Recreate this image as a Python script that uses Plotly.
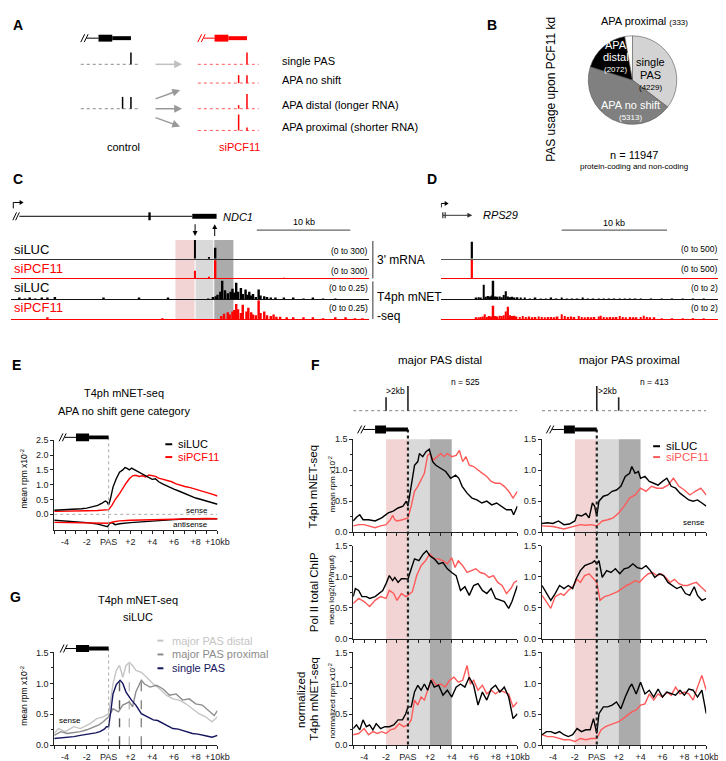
import plotly.graph_objects as go

# ======================= DATA =======================
# Panel B (pie)
pie_labels = ["single PAS", "APA no shift", "APA distal", "APA proximal"]
pie_values = [4229, 5313, 2072, 333]
pie_colors = ["#d3d3d3", "#808080", "#000000", "#ffffff"]

# Panel A schematic: peaks per row as (offset in PAS spacings, relative height)
a_control_rows = [[(0, 1.0)], [(-1, 1.0), (0, 1.0)]]
a_sipcf11_rows = [[(0, 1.0)], [(-1, 0.67), (0, 0.67)], [(-1, 0.3), (0, 1.25)], [(-1, 1.35), (0, 0.25)]]
a_row_labels = ["single PAS", "APA no shift", "APA distal (longer RNA)", "APA proximal (shorter RNA)"]

# Panel C: NDC1 locus (kb from window start)
c_mrna_siluc_pos = [19.7, 21.2, 21.9]
c_mrna_siluc = [300, 20, 175]
c_mrna_sipcf11_pos = [19.7, 21.2, 21.9, 29.2]
c_mrna_sipcf11 = [125, 15, 290, 10]
c_mnet_siluc_pos = [0.9, 1.5, 2.0, 2.6, 3.3, 3.9, 4.7, 9.9, 13.7, 16.8, 21.1,
                    21.6, 21.9, 22.1, 22.4, 22.6, 22.9, 23.2, 23.5, 23.7, 23.9,
                    24.1, 24.3, 24.6, 24.8, 25.1, 25.3, 25.5, 25.7, 25.9, 26.2,
                    26.5, 26.7, 27.1, 27.4, 27.8, 28.3, 29.2, 30.2, 31.3, 32.3,
                    33.4, 34.7]
c_mnet_siluc = [0.015, 0.01, 0.015, 0.01, 0.015, 0.02, 0.03, 0.015, 0.015, 0.02, 0.01,
                0.03, 0.04, 0.06, 0.1, 0.25, 0.12, 0.08, 0.1, 0.14, 0.09,
                0.22, 0.1, 0.15, 0.07, 0.13, 0.06, 0.1, 0.05, 0.07, 0.03,
                0.13, 0.05, 0.04, 0.03, 0.02, 0.02, 0.015, 0.015, 0.01, 0.015,
                0.01, 0.01]
c_mnet_sipcf11_pos = [3.9, 16.2,
                      22.5, 22.8, 23.2, 23.4, 23.7, 23.9, 24.1, 24.3, 24.6, 24.8,
                      25.2, 25.4, 25.7, 25.9, 26.2, 26.5, 26.7, 27.1, 27.4, 27.8,
                      28.1, 28.4, 28.8, 29.5, 30.2, 31.3, 32.3, 33.4, 34.7, 35.8,
                      36.8, 37.6]
c_mnet_sipcf11 = [0.02, 0.01,
                  0.04, 0.07, 0.09, 0.06, 0.1, 0.12, 0.2, 0.13, 0.08, 0.19,
                  0.1, 0.15, 0.09, 0.06, 0.05, 0.25, 0.08, 0.1, 0.05, 0.04,
                  0.06, 0.03, 0.03, 0.02, 0.015, 0.02, 0.015, 0.01, 0.02, 0.015,
                  0.01, 0.01]
c_regions = [(17.6, 19.7), (19.7, 21.7), (21.7, 23.8)]   # -2..PAS, PAS..+2, +2..+4

# Panel D: RPS29 locus (kb from window start)
d_mrna_pos = [3.0]
d_mrna_siluc = [450]
d_mrna_sipcf11 = [500]
d_mnet_siluc_pos = [3.4, 3.6, 3.8, 4.1, 4.3, 4.5, 4.7, 4.85, 5.0, 5.2,
                    5.4, 5.6, 5.8, 6.0, 6.2, 6.4, 6.6, 6.8, 7.0, 7.3,
                    7.6, 8.0, 8.5, 9.0, 9.5, 10.0, 10.5, 11.0, 11.5, 12.0,
                    12.5, 13.0, 13.5, 14.0, 14.5, 15.0, 15.5, 16.0, 16.5, 17.0,
                    17.5, 18.0, 18.5, 19.0, 20.0, 21.0, 22.0, 23.0, 24.0, 25.0]
d_mnet_siluc = [0.1, 0.2, 0.15, 1.55, 0.25, 0.35, 0.3, 0.4, 2.0, 0.3,
                0.25, 0.3, 0.2, 0.45, 0.85, 0.3, 0.2, 0.25, 0.15, 0.2,
                0.1, 0.12, 0.08, 0.1, 0.07, 0.08, 0.1, 0.08, 0.15, 0.08,
                0.06, 0.08, 0.1, 0.06, 0.07, 0.05, 0.08, 0.05, 0.06, 0.05,
                0.08, 0.04, 0.05, 0.04, 0.05, 0.04, 0.05, 0.03, 0.03, 0.02]
d_mnet_sipcf11_pos = [3.4, 3.6, 3.8, 4.0, 4.2, 4.4, 4.6, 4.8, 5.0, 5.2,
                      5.4, 5.6, 5.8, 6.0, 6.2, 6.4, 6.6, 6.8, 7.0, 7.2,
                      7.5, 7.8, 8.1, 8.4, 8.7, 9.0, 9.3, 9.6, 9.9, 10.2,
                      10.5, 10.8, 11.1, 11.5, 11.8, 12.1, 12.4, 12.7, 13.1, 13.4,
                      13.7, 14.0, 14.3, 14.6, 15.0, 15.2, 15.5, 15.8, 16.1, 16.4,
                      16.7, 17.0, 17.3, 17.6, 18.0, 18.3, 18.6, 19.0, 19.3, 19.6,
                      19.9, 20.3, 21.0, 22.0, 23.0, 24.0, 25.0]
d_mnet_sipcf11 = [0.1, 0.15, 0.2, 0.25, 0.5, 0.2, 0.3, 0.25, 1.4, 0.3,
                  0.25, 0.35, 0.3, 0.4, 0.8, 1.3, 0.4, 0.3, 0.35, 0.25,
                  0.2, 0.3, 0.2, 0.25, 0.15, 0.2, 0.25, 0.2, 0.15, 0.2,
                  0.2, 0.15, 0.25, 0.5, 0.3, 0.2, 0.25, 0.2, 0.3, 0.2,
                  0.15, 0.2, 0.15, 0.2, 0.25, 0.35, 0.2, 0.15, 0.2, 0.15,
                  0.2, 0.3, 0.2, 0.15, 0.2, 0.15, 0.15, 0.2, 0.35, 0.2,
                  0.15, 0.1, 0.05, 0.06, 0.05, 0.05, 0.04]

# Metagene x ticks (kb relative to PAS); labelled every 2 kb, minor tick every 1 kb
x_tick_vals = [-4, -2, 0, 2, 4, 6, 8, 10]
x_tick_text = ['-4', '-2', 'PAS', '+2', '+4', '+6', '+8', '+10kb']

# Panel E: (kb, mean rpm x10^-2)
e_sense_siluc = [(-5, 0.14), (-4.5, 0.15), (-4, 0.16), (-3.5, 0.15), (-3, 0.17), (-2.5, 0.19), (-2, 0.21),
                 (-1.5, 0.25), (-1, 0.3), (-0.6, 0.38), (-0.3, 0.45), (-0.15, 0.42), (0, 0.32), (0.15, 0.5),
                 (0.4, 0.92), (0.7, 1.2), (1.0, 1.42), (1.3, 1.5), (1.5, 1.58), (1.7, 1.55), (1.9, 1.5),
                 (2.1, 1.56), (2.4, 1.5), (2.8, 1.4), (3.2, 1.32), (3.6, 1.25), (4.0, 1.18), (4.3, 1.2),
                 (4.6, 1.1), (5.0, 1.02), (5.5, 0.93), (6.0, 0.85), (6.5, 0.78), (7.0, 0.7), (7.5, 0.64),
                 (8.0, 0.55), (8.5, 0.5), (9.0, 0.44), (9.5, 0.39), (10, 0.34)]
e_sense_sipcf11 = [(-5, 0.1), (-4, 0.1), (-3, 0.11), (-2, 0.12), (-1, 0.13), (-0.3, 0.15), (0, 0.16),
                   (0.3, 0.3), (0.6, 0.5), (1.0, 0.7), (1.3, 0.9), (1.6, 1.05), (1.9, 1.2), (2.2, 1.3),
                   (2.5, 1.32), (2.8, 1.28), (3.1, 1.3), (3.4, 1.26), (3.7, 1.33), (4.0, 1.3), (4.3, 1.28),
                   (4.6, 1.22), (5.0, 1.18), (5.4, 1.12), (5.8, 1.1), (6.2, 1.03), (6.6, 0.98), (7.0, 0.94),
                   (7.5, 0.9), (8.0, 0.85), (8.5, 0.8), (9.0, 0.74), (9.5, 0.68), (10, 0.62)]
e_anti_siluc = [(-5, -0.2), (-4, -0.22), (-3, -0.25), (-2, -0.28), (-1, -0.33), (-0.4, -0.38), (-0.1, -0.42),
                (0.1, -0.3), (0.3, -0.28), (0.6, -0.35), (1, -0.32), (2, -0.28), (3, -0.25), (4, -0.22),
                (5, -0.2), (6, -0.18), (7, -0.16), (8, -0.15), (9, -0.15), (10, -0.15)]
e_anti_sipcf11 = [(-5, -0.27), (-4, -0.28), (-3, -0.29), (-2, -0.3), (-1, -0.3), (0, -0.3), (0.5, -0.25),
                  (1, -0.22), (2, -0.2), (3, -0.19), (4, -0.18), (5, -0.17), (6, -0.16), (7, -0.15),
                  (8, -0.15), (9, -0.14), (10, -0.15)]

# Panel F
f_mnet_distal_siluc = [(-5, 0.18), (-4.7, 0.24), (-4.4, 0.28), (-4.1, 0.2), (-3.6, 0.2), (-3, 0.18), (-2.4, 0.23),
                       (-1.8, 0.31), (-1.35, 0.34), (-0.9, 0.39), (-0.45, 0.42), (-0.15, 0.5), (0, 0.42), (0.15, 0.58),
                       (0.45, 0.95), (0.6, 1.08), (0.9, 1.14), (1.05, 1.27), (1.35, 1.22), (1.65, 1.3), (1.95, 1.34),
                       (2.1, 1.25), (2.26, 1.14), (2.55, 1.08), (3, 1.03), (3.45, 0.98), (3.9, 0.87), (4.35, 0.92),
                       (4.65, 0.87), (4.95, 0.74), (5.4, 0.63), (5.85, 0.55), (6.3, 0.52), (6.75, 0.47), (7.2, 0.5),
                       (7.65, 0.44), (8.1, 0.47), (8.55, 0.42), (9, 0.36), (9.45, 0.36), (9.65, 0.28), (10, 0.42)]
f_mnet_distal_sipcf11 = [(-5, 0.1), (-4.5, 0.12), (-4, 0.12), (-3.5, 0.09), (-3, 0.07), (-2.5, 0.1), (-2, 0.12),
                         (-1.6, 0.2), (-1.4, 0.27), (-1.2, 0.2), (-1, 0.18), (-0.5, 0.2), (0, 0.23), (0.3, 0.42),
                         (0.6, 0.66), (0.9, 0.74), (1.2, 0.84), (1.5, 0.95), (1.8, 1.24), (2.0, 1.27), (2.3, 1.16),
                         (2.7, 1.22), (3.0, 1.27), (3.3, 1.22), (3.6, 1.27), (4.0, 1.22), (4.4, 1.24), (4.7, 1.32),
                         (5.0, 1.14), (5.3, 1.22), (5.6, 1.08), (6.0, 1.06), (6.4, 1.0), (6.8, 0.95), (7.2, 0.9),
                         (7.6, 0.82), (8.0, 0.79), (8.4, 0.79), (8.8, 0.74), (9.2, 0.66), (9.6, 0.55), (10, 0.66)]
f_mnet_proximal_siluc = [(-5, 0.14), (-4.5, 0.15), (-4, 0.14), (-3.5, 0.18), (-3, 0.12), (-2.5, 0.13), (-2, 0.18),
                         (-1.8, 0.28), (-1.4, 0.26), (-1, 0.3), (-0.7, 0.23), (-0.4, 0.47), (-0.2, 0.42), (0, 0.26),
                         (0.2, 0.5), (0.6, 0.58), (1.0, 0.6), (1.4, 0.66), (1.8, 0.68), (2.2, 0.74), (2.6, 0.9),
                         (3.0, 0.95), (3.2, 1.06), (3.5, 0.95), (3.8, 0.98), (4.0, 0.87), (4.4, 0.9), (4.8, 0.82),
                         (5.2, 0.79), (5.6, 0.76), (6.0, 0.82), (6.4, 0.87), (6.8, 0.74), (7.2, 0.71), (7.6, 0.63),
                         (8.0, 0.58), (8.4, 0.52), (8.8, 0.5), (9.2, 0.52), (9.6, 0.47), (10, 0.42)]
f_mnet_proximal_sipcf11 = [(-5, 0.1), (-4, 0.09), (-3, 0.05), (-2, 0.1), (-1.5, 0.12), (-1, 0.11), (-0.5, 0.12),
                           (0, 0.1), (0.5, 0.18), (1, 0.2), (1.5, 0.23), (2, 0.31), (2.5, 0.42), (3, 0.55),
                           (3.5, 0.6), (4, 0.71), (4.5, 0.66), (5, 0.74), (5.5, 0.71), (6, 0.71), (6.5, 0.76),
                           (7, 0.87), (7.5, 0.74), (8, 0.68), (8.5, 0.6), (9, 0.66), (9.5, 0.71), (10, 0.6)]
f_chip_distal_siluc = [(-5, 0.68), (-4.8, 0.81), (-4.5, 0.78), (-4.2, 0.68), (-3.8, 0.68), (-3.5, 0.65), (-3, 0.68),
                       (-2.6, 0.73), (-2.3, 0.78), (-2, 0.89), (-1.7, 1.02), (-1.4, 0.94), (-1.2, 0.99), (-0.9, 0.91),
                       (-0.6, 0.97), (-0.3, 0.97), (0, 0.96), (0.3, 1.13), (0.6, 1.29), (1, 1.26), (1.4, 1.37),
                       (1.7, 1.42), (2, 1.34), (2.4, 1.29), (2.8, 1.21), (3.2, 1.23), (3.6, 1.13), (4, 1.07),
                       (4.4, 1.02), (4.8, 0.78), (5.2, 0.84), (5.6, 0.7), (6, 0.86), (6.4, 0.89), (6.8, 0.78),
                       (7.2, 0.73), (7.6, 0.81), (8, 0.65), (8.4, 0.62), (8.8, 0.6), (9.2, 0.49), (9.5, 0.6), (10, 0.86)]
f_chip_distal_sipcf11 = [(-5, 0.57), (-4.5, 0.65), (-4, 0.6), (-3.5, 0.52), (-3, 0.62), (-2.5, 0.68), (-2, 0.65),
                         (-1.7, 0.78), (-1.3, 0.73), (-1, 0.62), (-0.6, 0.73), (-0.2, 0.68), (0, 0.7), (0.4, 0.76),
                         (0.8, 1.02), (1.2, 1.18), (1.6, 1.26), (2, 1.37), (2.4, 1.29), (2.8, 1.29), (3.2, 1.26),
                         (3.6, 1.21), (4, 1.31), (4.3, 1.15), (4.6, 1.26), (5, 1.18), (5.4, 1.07), (5.8, 1.1),
                         (6.2, 1.13), (6.6, 1.07), (7, 1.05), (7.4, 0.99), (7.8, 1.02), (8.2, 0.91), (8.6, 0.86),
                         (9, 0.73), (9.4, 0.81), (9.7, 0.91), (10, 0.94)]
f_chip_proximal_siluc = [(-5, 0.86), (-4.6, 0.73), (-4.2, 0.62), (-3.8, 0.73), (-3.4, 0.86), (-3, 0.81), (-2.6, 0.86),
                         (-2.2, 0.81), (-1.9, 0.96), (-1.5, 1.1), (-1.1, 1.18), (-0.7, 1.21), (-0.4, 1.23), (-0.2, 1.26),
                         (0, 1.21), (0.2, 1.26), (0.5, 0.99), (0.9, 1.1), (1.3, 1.07), (1.7, 1.13), (2.1, 1.05),
                         (2.5, 1.13), (2.9, 1.15), (3.3, 1.21), (3.7, 1.15), (4.1, 1.13), (4.5, 1.18), (4.9, 1.1),
                         (5.3, 0.99), (5.7, 1.05), (6.1, 1.02), (6.5, 0.91), (6.9, 0.86), (7.3, 0.81), (7.7, 0.84),
                         (8.1, 0.73), (8.5, 0.7), (8.9, 0.84), (9.2, 0.7), (9.6, 0.62), (10, 0.65)]
f_chip_proximal_sipcf11 = [(-5, 0.7), (-4.5, 0.57), (-4.2, 0.49), (-3.8, 0.68), (-3.3, 0.73), (-3, 0.7), (-2.6, 0.78),
                           (-2.2, 0.84), (-1.8, 0.96), (-1.5, 0.91), (-1.1, 1.02), (-0.7, 1.05), (-0.3, 0.96), (0, 0.91),
                           (0.3, 0.62), (0.7, 0.68), (1.1, 0.7), (1.5, 0.73), (1.9, 0.76), (2.3, 0.81), (2.7, 0.86),
                           (3.1, 0.89), (3.5, 0.94), (3.9, 0.91), (4.3, 0.99), (4.7, 1.05), (5.1, 1.07), (5.5, 1.02),
                           (5.9, 1.05), (6.3, 0.99), (6.7, 0.91), (7.1, 0.96), (7.5, 0.89), (7.9, 0.86), (8.3, 0.86),
                           (8.7, 0.89), (9.1, 0.91), (9.5, 0.84), (10, 0.76)]
f_norm_distal_siluc = [(-5, 0.27), (-4.7, 0.33), (-4.4, 0.25), (-4.1, 0.41), (-3.8, 0.3), (-3.5, 0.33), (-3.2, 0.25),
                       (-2.9, 0.35), (-2.5, 0.27), (-2.1, 0.3), (-1.7, 0.3), (-1.3, 0.33), (-0.9, 0.41), (-0.5, 0.41),
                       (-0.2, 0.51), (0, 0.62), (0.3, 0.62), (0.6, 0.86), (0.9, 0.97), (1.2, 0.89), (1.5, 0.99),
                       (1.8, 0.89), (2.1, 1.05), (2.4, 0.94), (2.8, 0.97), (3.2, 0.81), (3.6, 0.89), (4, 0.78),
                       (4.4, 0.94), (4.8, 0.99), (5.2, 0.94), (5.6, 1.1), (6, 0.97), (6.4, 0.65), (6.8, 0.86),
                       (7.2, 0.73), (7.6, 0.91), (8, 0.97), (8.4, 0.86), (8.8, 0.94), (9.2, 0.78), (9.6, 0.43), (10, 0.51)]
f_norm_distal_sipcf11 = [(-5, 0.17), (-4.5, 0.19), (-4, 0.27), (-3.6, 0.17), (-3.2, 0.22), (-2.8, 0.19), (-2.4, 0.22),
                         (-2, 0.19), (-1.6, 0.25), (-1.2, 0.27), (-0.8, 0.35), (-0.4, 0.3), (0, 0.33), (0.3, 0.41),
                         (0.6, 0.73), (0.9, 0.65), (1.2, 0.78), (1.5, 0.73), (1.8, 0.89), (2.2, 1.07), (2.6, 0.97),
                         (3, 0.99), (3.4, 0.94), (3.8, 1.05), (4.2, 1.1), (4.6, 1.02), (5, 1.05), (5.4, 1.29),
                         (5.7, 0.99), (6, 1.05), (6.4, 0.89), (6.8, 0.97), (7.2, 0.83), (7.6, 0.89), (8, 0.83),
                         (8.4, 0.89), (8.8, 0.86), (9.2, 0.83), (9.6, 0.62), (10, 0.7)]
f_norm_proximal_siluc = [(-5, 0.17), (-4.6, 0.22), (-4.2, 0.22), (-3.8, 0.19), (-3.4, 0.22), (-3, 0.17), (-2.6, 0.14),
                         (-2.2, 0.17), (-1.8, 0.27), (-1.4, 0.22), (-1, 0.25), (-0.6, 0.25), (-0.3, 0.43), (0, 0.19),
                         (0.2, 0.51), (0.6, 0.62), (1, 0.62), (1.4, 0.65), (1.8, 0.7), (2.2, 0.59), (2.6, 0.78),
                         (3, 0.94), (3.2, 0.99), (3.6, 0.83), (4, 1.02), (4.4, 0.83), (4.8, 0.89), (5.2, 0.78),
                         (5.6, 0.91), (6, 0.78), (6.4, 0.86), (6.8, 0.83), (7.2, 0.81), (7.6, 0.89), (8, 0.81),
                         (8.4, 0.91), (8.8, 0.89), (9.2, 0.78), (9.6, 0.89), (10, 0.51)]
f_norm_proximal_sipcf11 = [(-5, 0.17), (-4.5, 0.14), (-4, 0.14), (-3.5, 0.11), (-3, 0.09), (-2.5, 0.09), (-2, 0.06),
                           (-1.5, 0.11), (-1, 0.09), (-0.5, 0.11), (0, 0.11), (0.4, 0.25), (0.8, 0.3), (1.2, 0.33),
                           (1.6, 0.35), (2, 0.38), (2.4, 0.43), (2.8, 0.49), (3.2, 0.54), (3.6, 0.57), (4, 0.65),
                           (4.4, 0.67), (4.8, 0.83), (5.2, 0.73), (5.6, 0.83), (6, 0.78), (6.4, 0.86), (6.8, 0.81),
                           (7.2, 0.94), (7.6, 0.83), (8, 0.86), (8.4, 0.83), (8.8, 0.73), (9.2, 0.94), (9.6, 1.13), (10, 0.89)]
f_regions = [(-2, 0), (0, 2), (2, 4)]
f_distal_schema = [(-2, 0.55), (0, 1.0)]     # PAS position (kb), relative usage
f_proximal_schema = [(0, 1.0), (2, 0.55)]
f_n = ["n = 525", "n = 413"]

# Panel G
g_distal = [(-5, 0.19), (-4.6, 0.27), (-4, 0.22), (-3.2, 0.3), (-2.6, 0.27), (-1.7, 0.35), (-1.1, 0.43), (-0.5, 0.46),
            (0, 0.51), (0.4, 0.99), (0.7, 1.21), (1.0, 1.29), (1.3, 1.1), (1.6, 1.29), (1.9, 1.34), (2.2, 1.29),
            (2.5, 1.21), (3.0, 1.18), (3.5, 1.1), (4.1, 0.99), (4.7, 0.91), (5.3, 0.81), (5.9, 0.75), (6.5, 0.73),
            (7.1, 0.67), (7.7, 0.59), (8.3, 0.51), (8.9, 0.46), (9.5, 0.38), (10, 0.46)]
g_proximal = [(-5, 0.16), (-4.4, 0.22), (-3.8, 0.19), (-3.2, 0.2), (-2.6, 0.22), (-2, 0.25), (-1.4, 0.3), (-0.9, 0.33),
              (-0.5, 0.38), (0, 0.46), (0.4, 0.59), (0.9, 0.54), (1.3, 0.65), (1.9, 0.7), (2.2, 0.62), (2.5, 0.86),
              (3.0, 1.05), (3.3, 0.99), (3.8, 0.94), (4.4, 0.97), (5.0, 0.91), (5.6, 0.81), (6.2, 0.83), (6.8, 0.73),
              (7.4, 0.75), (8.0, 0.67), (8.6, 0.65), (9.2, 0.56), (9.7, 0.48), (10, 0.56)]
g_single = [(-5, 0.11), (-4.4, 0.12), (-3.8, 0.12), (-3.2, 0.14), (-2.6, 0.16), (-2.1, 0.17), (-1.7, 0.19), (-1.2, 0.2),
            (-0.8, 0.22), (-0.4, 0.26), (-0.2, 0.3), (0, 0.3), (0.2, 0.55), (0.4, 0.83), (0.7, 0.98), (0.9, 1.02),
            (1.05, 1.05), (1.3, 1.0), (1.6, 0.86), (2.1, 0.73), (2.5, 0.65), (3.0, 0.51), (3.5, 0.46), (4.1, 0.41),
            (4.5, 0.4), (5.0, 0.35), (5.5, 0.3), (5.9, 0.27), (6.4, 0.26), (6.8, 0.24), (7.2, 0.22), (7.7, 0.19),
            (8.2, 0.18), (8.6, 0.16), (9.0, 0.15), (9.5, 0.13), (10, 0.16)]
g_peak_pos = [1.0, 1.9, 3.0]
g_peak_val = [1.03, 1.33, 1.04]

# ======================= STYLE / HELPERS =======================
W, H = 726, 761
FONT = "Liberation Sans, Arial, Helvetica, sans-serif"
INK = "#222222"
RED = "#ff0000"
LRED = "#ff5a5a"
NAVY = "#15155f"
G_DIST = "#c4c4c4"
G_PROX = "#8c8c8c"
PINK = "#f3d4d4"
LGRAY = "#d9d9d9"
DGRAY = "#ababab"


def X(px):
    return px / W


def Y(py):
    return 1 - py / H


def names(n):
    s = '' if n == 1 else str(n)
    return 'x' + s, 'y' + s, 'xaxis' + s, 'yaxis' + s


fig = go.Figure()
shapes = []
annots = []
axes = {}


def cx(v, ref):
    return X(v) if ref == 'paper' else v


def cy(v, ref):
    return Y(v) if ref == 'paper' else v


def text(x, y, s, size=11, color='black', xanchor='center', angle=0, xref='paper', yref='paper'):
    annots.append(dict(x=cx(x, xref), y=cy(y, yref), xref=xref, yref=yref, text=s, showarrow=False,
                       font=dict(size=size, color=color, family=FONT), xanchor=xanchor, yanchor='middle',
                       textangle=angle, borderpad=0))


def seg(x0, y0, x1, y1, color=INK, width=1, dash='solid', xref='paper', yref='paper', layer='above'):
    shapes.append(dict(type='line', x0=cx(x0, xref), x1=cx(x1, xref), y0=cy(y0, yref), y1=cy(y1, yref),
                       xref=xref, yref=yref, layer=layer, line=dict(color=color, width=width, dash=dash)))


def rect(x0, y0, x1, y1, color, xref='paper', yref='paper', layer='above'):
    shapes.append(dict(type='rect', x0=cx(x0, xref), x1=cx(x1, xref), y0=cy(y0, yref), y1=cy(y1, yref),
                       xref=xref, yref=yref, layer=layer, fillcolor=color, line=dict(width=0)))


def arrow_px(x0, y0, x1, y1, color='#999', width=1.5, hl=8, hw=4):
    """Arrow drawn as a line plus a filled triangular head, in pixel space of the page."""
    dx, dy = x1 - x0, y1 - y0
    L = (dx * dx + dy * dy) ** 0.5
    ux, uy = dx / L, dy / L
    bx, by = x1 - ux * hl, y1 - uy * hl
    seg(x0, y0, bx + ux * 1, by + uy * 1, color=color, width=width)
    p1 = (bx - uy * hw, by + ux * hw)
    p2 = (bx + uy * hw, by - ux * hw)
    path = "M %f %f L %f %f L %f %f Z" % (X(x1), Y(y1), X(p1[0]), Y(p1[1]), X(p2[0]), Y(p2[1]))
    shapes.append(dict(type='path', path=path, xref='paper', yref='paper', fillcolor=color,
                       line=dict(width=0), layer='above'))


def gene_icon(xref, yc, slash0, sw, gap, box, bar, color, box_h, bar_h):
    for k in range(2):
        a = slash0 + k * gap
        seg(a, yc + 4, a + sw, yc - 4, color=color, width=1, xref=xref)
    seg(slash0 + gap + sw * 0.6, yc, box[0], yc, color=color, width=1, xref=xref)
    rect(box[0], yc - box_h / 2, box[1], yc + box_h / 2, color, xref=xref)
    rect(bar[0], yc - bar_h / 2, bar[1], yc + bar_h / 2, color, xref=xref)


def line(pairs, color, n, width=1.4):
    xa, ya, _, _ = names(n)
    fig.add_trace(go.Scatter(x=[p[0] for p in pairs], y=[p[1] for p in pairs], mode='lines',
                             line=dict(color=color, width=width), xaxis=xa, yaxis=ya,
                             hoverinfo='skip', showlegend=False))


def bars(xs, ys, color, n, width):
    xa, ya, _, _ = names(n)
    fig.add_trace(go.Bar(x=xs, y=ys, width=width, marker=dict(color=color, line=dict(width=0)),
                         textposition='none', xaxis=xa, yaxis=ya, hoverinfo='skip', showlegend=False))


def profile_axes(n, xpx, ypx, yrange, ytv, xlabels, yminor=True):
    xa, ya, xk, yk = names(n)
    axes[xk] = dict(domain=[X(xpx[0]), X(xpx[1])], range=[-5, 10], anchor=ya, showline=True, linecolor=INK,
                    linewidth=1, ticks='outside', ticklen=3, tickwidth=1, tickcolor=INK, tickvals=x_tick_vals,
                    ticktext=x_tick_text, showticklabels=xlabels, showgrid=False, zeroline=False,
                    minor=dict(dtick=1, tick0=-5, ticks='outside', ticklen=3, tickwidth=1, tickcolor=INK,
                               showgrid=False),
                    tickfont=dict(size=9, color=INK, family=FONT), fixedrange=True)
    yd = dict(domain=[Y(ypx[1]), Y(ypx[0])], range=yrange, anchor=xa, showline=True, linecolor=INK,
              linewidth=1, ticks='outside', ticklen=3, tickwidth=1, tickcolor=INK, tickvals=ytv,
              ticktext=['%.1f' % v for v in ytv], showgrid=False, zeroline=False,
              tickfont=dict(size=9, color=INK, family=FONT), fixedrange=True)
    if yminor:
        yd['minor'] = dict(dtick=0.25, tick0=0, ticks='outside', ticklen=2, tickcolor=INK, showgrid=False)
    axes[yk] = yd


def track_axes(n, xpx, ypx, xrange, yrange, linecolor):
    xa, ya, xk, yk = names(n)
    axes[xk] = dict(domain=[X(xpx[0]), X(xpx[1])], range=xrange, anchor=ya, showline=True, linecolor=linecolor,
                    linewidth=1, ticks='', showticklabels=False, showgrid=False, zeroline=False, fixedrange=True)
    axes[yk] = dict(domain=[Y(ypx[1]), Y(ypx[0])], range=yrange, anchor=xa, showline=False, ticks='',
                    showticklabels=False, showgrid=False, zeroline=False, fixedrange=True)


# ======================= PANEL LETTERS =======================
for lab, px, py in [("A", 10, 12), ("B", 492, 12), ("C", 10, 168), ("D", 431, 168),
                    ("E", 9, 357), ("F", 313, 357), ("G", 8, 592)]:
    text(px, py, "<b>%s</b>" % lab, size=14)

# ======================= PANEL A =======================
gene_icon('paper', 25.5, 74, 4, 3.5, (92, 106), (106, 125), 'black', 7, 4)
gene_icon('paper', 25.5, 193, 4, 3.5, (210, 224), (224, 243), RED, 7, 4)
A_SP, A_H = 8.5, 12
ctrl_y = [52, 97]
kd_y = [52, 71, 97, 119]
for yb, peaks in zip(ctrl_y, a_control_rows):
    seg(74, yb, 135, yb, color='#8a8a8a', width=1, dash='dot')
    for off, h in peaks:
        xp = 125 + off * A_SP
        seg(xp, yb, xp, yb - h * A_H, color='black', width=1.5)
for yb, peaks, lab in zip(kd_y, a_sipcf11_rows, a_row_labels):
    seg(193, yb, 255, yb, color=LRED, width=1, dash='dot')
    for off, h in peaks:
        xp = 243 + off * A_SP
        seg(xp, yb, xp, yb - h * A_H, color=RED, width=1.5)
    text(278, yb - 3.5, lab, size=11, xanchor='left')
arrow_px(150, 52, 177, 52, color='#c0c0c0')
arrow_px(150, 87, 175, 78, color='#999999')
arrow_px(150, 97, 177, 97, color='#999999')
arrow_px(150, 106, 175, 115, color='#999999')
text(117, 136, "control", size=11)
text(235, 136, "siPCF11", size=11, color=RED)

# ======================= PANEL B =======================
fig.add_trace(go.Pie(labels=pie_labels, values=pie_values, sort=False, direction='clockwise', rotation=0,
                     marker=dict(colors=pie_colors, line=dict(color='#555555', width=0.6)),
                     textinfo='none', hoverinfo='skip', showlegend=False,
                     domain=dict(x=[X(590), X(680)], y=[Y(113), Y(23)])))
text(552, 77, "PAS usage upon PCF11 kd", size=12, angle=-90)
text(647, 8, "APA proximal <span style='font-size:8px'>(%d)</span>" % pie_values[3], size=11)
text(653, 50, "single", size=11)
text(653, 63, "PAS", size=11)
text(653, 75, "(%d)" % pie_values[0], size=8)
text(618, 32, "APA", size=11, color='white')
text(618, 45, "distal", size=11, color='white')
text(618, 57, "(%d)" % pie_values[2], size=8, color='white')
text(633, 93, "APA no shift", size=11, color='white')
text(633, 106, "(%d)" % pie_values[1], size=8, color='white')
text(637, 144, "n = %d" % sum(pie_values), size=11)
text(637, 156, "protein-coding and non-coding", size=8)

# ======================= PANEL C =======================
C_X = (3, 367)
C_R = [0, 38.3]
TR_Y = [(230, 249), (250, 269), (271, 290), (291, 310)]


def c_px(kb):
    return C_X[0] + (kb - C_R[0]) / (C_R[1] - C_R[0]) * (C_X[1] - C_X[0])


track_axes(9, C_X, TR_Y[0], C_R, [0, 300], '#333333')
track_axes(10, C_X, TR_Y[1], C_R, [0, 300], RED)
track_axes(11, C_X, TR_Y[2], C_R, [0, 0.25], '#111111')
track_axes(12, C_X, TR_Y[3], C_R, [0, 0.25], RED)
bars(c_mrna_siluc_pos, c_mrna_siluc, 'black', 9, 0.16)
bars(c_mrna_sipcf11_pos, c_mrna_sipcf11, RED, 10, 0.16)
bars(c_mnet_siluc_pos, c_mnet_siluc, 'black', 11, 0.26)
bars(c_mnet_sipcf11_pos, c_mnet_sipcf11, RED, 12, 0.26)
for (a, b), col in zip(c_regions, [PINK, LGRAY, DGRAY]):
    rect(a, 310, b, 230, col, xref='x9', layer='below')
for b in [c_regions[0][1], c_regions[1][1]]:
    seg(b, 310, b, 230, color='white', width=1, xref='x9', layer='below')
# gene model
seg(0.2, 210, 0.6, 202, color='black', xref='x9')
seg(0.5, 210, 0.9, 202, color='black', xref='x9')
seg(0.9, 206, 19.4, 206, color='black', width=1, xref='x9')
rect(14.7, 202, 14.95, 210, 'black', xref='x9')
rect(19.4, 203.5, 22.0, 208.5, 'black', xref='x9')
seg(0.25, 198, 0.25, 192, color='black', xref='x9')
arrow_px(c_px(0.25), 192, c_px(1.35), 192, color='black', width=1, hl=4, hw=2.5)
text(218, 207, "<i>NDC1</i>", size=11, xanchor='left')
arrow_px(c_px(19.7), 214, c_px(19.7), 226, color='black', width=1, hl=5, hw=2.5)
arrow_px(c_px(21.8), 226, c_px(21.8), 214, color='black', width=1, hl=5, hw=2.5)
seg(26.3, 220, 36.3, 220, color='#666666', width=1.2, xref='x9')
text(31.3, 212, "10 kb", size=9, xref='x9')
for yy, lab, col in [(240, "siLUC", 'black'), (259, "siPCF11", RED), (278, "siLUC", 'black'), (298, "siPCF11", RED)]:
    text(5, yy, lab, size=13, color=col, xanchor='left')
for yy, lab in [(241, "(0 to 300)"), (261, "(0 to 300)"), (279, "(0 to 0.25)"), (299, "(0 to 0.25)")]:
    text(367, yy, lab, size=8.5, xanchor='right')
seg(371, 231, 371, 269, color='#333333', width=1)
seg(371, 272, 371, 310, color='#333333', width=1)
text(374, 250, "3' mRNA", size=12, xanchor='left')
text(374, 288, "T4ph mNET", size=12, xanchor='left')
text(374, 307, "-seq", size=12, xanchor='left')

# ======================= PANEL D =======================
D_X = (440, 724)
D_R = [0, 26.54]


def d_px(kb):
    return D_X[0] + (kb - D_R[0]) / (D_R[1] - D_R[0]) * (D_X[1] - D_X[0])


track_axes(13, D_X, TR_Y[0], D_R, [0, 500], '#555555')
track_axes(14, D_X, TR_Y[1], D_R, [0, 500], RED)
track_axes(15, D_X, TR_Y[2], D_R, [0, 2], '#111111')
track_axes(16, D_X, TR_Y[3], D_R, [0, 2], RED)
bars(d_mrna_pos, d_mrna_siluc, 'black', 13, 0.12)
bars(d_mrna_pos, d_mrna_sipcf11, RED, 14, 0.12)
bars(d_mnet_siluc_pos, d_mnet_siluc, 'black', 15, 0.16)
bars(d_mnet_sipcf11_pos, d_mnet_sipcf11, RED, 16, 0.16)
seg(0.05, 197, 0.05, 193, color='black', xref='x13')
arrow_px(d_px(0.05), 193, d_px(0.75), 193, color='black', width=1, hl=4, hw=2.5)
seg(0.2, 202, 0.2, 208, color='#333333', width=1.2, xref='x13')
seg(0.42, 202, 0.42, 208, color='#333333', width=1.2, xref='x13')
arrow_px(d_px(0.2), 205, d_px(3.0), 205, color='#333333', width=1, hl=5, hw=2.5)
text(482, 205, "<i>RPS29</i>", size=11, xanchor='left')
seg(11.5, 220, 21.5, 220, color='#666666', width=1.2, xref='x13')
text(16.5, 213, "10 kb", size=9, xref='x13')
for yy, lab in [(239, "(0 to 500)"), (259, "(0 to 500)"), (279, "(0 to 2)"), (299, "(0 to 2)")]:
    text(723, yy, lab, size=8.5, xanchor='right')

# ======================= PANEL E =======================
profile_axes(1, (47, 213), (433, 524), [-0.533, 2.5], [0, 0.5, 1.0, 1.5, 2.0, 2.5], True, yminor=False)
seg(-5, 0, 10, 0, color='#aaaaaa', width=1, dash='dot', xref='x', yref='y', layer='below')
seg(0, 430, 0, 524, color='#aaaaaa', width=1, dash='dot', xref='x')
line(e_anti_siluc, 'black', 1)
line(e_anti_sipcf11, RED, 1)
line(e_sense_sipcf11, RED, 1)
line(e_sense_siluc, 'black', 1)
gene_icon('x', 430, -4.55, 0.35, 0.3, (-3.0, -1.8), (-1.8, 0), 'black', 8, 4)
text(118, 385, "T4ph mNET-seq", size=11)
text(118, 403, "APA no shift gene category", size=11)
seg(160, 437, 167, 437, color='black', width=2)
seg(160, 450, 167, 450, color=RED, width=2)
text(172, 437, "siLUC", size=11, xanchor='left')
text(172, 450, "siPCF11", size=11, color=RED, xanchor='left')
text(204, 504, "sense", size=8, xanchor='right')
text(204, 518, "antisense", size=8, xanchor='right')
text(17, 472, "mean rpm x10<sup>-2</sup>", size=8.5, angle=-90)

# ======================= PANEL F =======================
F_COLS = [(351, 518), (543, 710)]
F_ROWS = [(432, 526), (540, 634), (648, 742)]
f_series = [[(f_mnet_distal_siluc, f_mnet_distal_sipcf11), (f_mnet_proximal_siluc, f_mnet_proximal_sipcf11)],
            [(f_chip_distal_siluc, f_chip_distal_sipcf11), (f_chip_proximal_siluc, f_chip_proximal_sipcf11)],
            [(f_norm_distal_siluc, f_norm_distal_sipcf11), (f_norm_proximal_siluc, f_norm_proximal_sipcf11)]]
n = 2
for r, ypx in enumerate(F_ROWS):
    for c, xpx in enumerate(F_COLS):
        profile_axes(n, xpx, ypx, [0, 1.5], [0, 0.5, 1.0, 1.5], r == 2)
        sil, spc = f_series[r][c]
        line(spc, LRED, n)
        line(sil, 'black', n)
        n += 1
for c, (xr, schema, ntext, title) in enumerate(zip(['x2', 'x3'], [f_distal_schema, f_proximal_schema], f_n,
                                                     ["major PAS distal", "major PAS proximal"])):
    for (a, b), col in zip(f_regions, [PINK, LGRAY, DGRAY]):
        rect(a, 742, b, 432, col, xref=xr, layer='below')
    seg(0, 422, 0, 742, color=INK, width=2.2, dash='dot', xref=xr)
    gene_icon(xr, 422, -4.6, 0.38, 0.3, (-3.0, -2.0), (-2.0, 0), 'black', 8, 4)
    seg(-5, 403, 10, 403, color='#9a9a9a', width=1.3, dash='dot', xref=xr)
    for pos, h in schema:
        seg(pos, 403, pos, 403 - 25 * h, color=INK, width=1.6, xref=xr)
    text(1.0 if c == 1 else -1.15, 383, "&gt;2kb", size=8.5, xref=xr)
    text(5.3, 374, ntext, size=8.5, xref=xr)
    text((F_COLS[c][0] + F_COLS[c][1]) / 2 + 5, 352, title, size=11.5)
seg(656, 439, 663, 439, color='black', width=2)
seg(656, 450, 663, 450, color=LRED, width=2)
text(668, 439, "siLUC", size=11.5, xanchor='left')
text(668, 450, "siPCF11", size=11.5, color=LRED, xanchor='left')
text(710, 516, "sense", size=8, xanchor='right')
text(310, 480, "T4ph mNET-seq", size=11.5, angle=-90)
text(329, 478, "mean rpm x10<sup>-2</sup>", size=8, angle=-90)
text(311, 587, "Pol II total ChIP", size=11.5, angle=-90)
text(329, 585, "mean log2(IP/input)", size=8, angle=-90)
text(298, 696, "normalized", size=11.5, angle=-90)
text(311, 695, "T4ph mNET-seq", size=11.5, angle=-90)
text(329, 697, "normalized rpm x10<sup>-2</sup>", size=8, angle=-90)

# ======================= PANEL G =======================
profile_axes(8, (47, 213), (648, 742), [0, 1.5], [0, 0.5, 1.0, 1.5], True)
for pos, v, col in zip(g_peak_pos, g_peak_val, ['#555555', '#bbbbbb', '#888888']):
    seg(pos, 0, pos, v, color=col, width=1.4, dash='dash', xref='x8', yref='y8', layer='below')
seg(0, 644, 0, 742, color='#aaaaaa', width=1, dash='dot', xref='x8')
line(g_distal, G_DIST, 8)
line(g_proximal, G_PROX, 8)
line(g_single, NAVY, 8)
gene_icon('x8', 644, -4.45, 0.35, 0.3, (-3.0, -1.8), (-1.8, 0), 'black', 7, 4)
text(132, 595, "T4ph mNET-seq", size=11)
text(132, 612, "siLUC", size=11)
for yy, lab, col in [(636, "major PAS distal", G_DIST), (650, "major PAS proximal", G_PROX), (664, "single PAS", NAVY)]:
    seg(152, yy, 158, yy, color=col, width=2)
    text(166, yy, lab, size=11, color=col, xanchor='left')
text(51, 717, "sense", size=8, xanchor='left')
text(17, 692, "mean rpm x10<sup>-2</sup>", size=8.5, angle=-90)

# ======================= LAYOUT =======================
fig.update_layout(width=W, height=H, margin=dict(l=0, r=0, t=0, b=0), autosize=False,
                  paper_bgcolor='white', plot_bgcolor='rgba(0,0,0,0)', showlegend=False,
                  barmode='overlay', font=dict(family=FONT, size=11, color='black'),
                  shapes=shapes, annotations=annots, **axes)

fig.write_html("out.html")
